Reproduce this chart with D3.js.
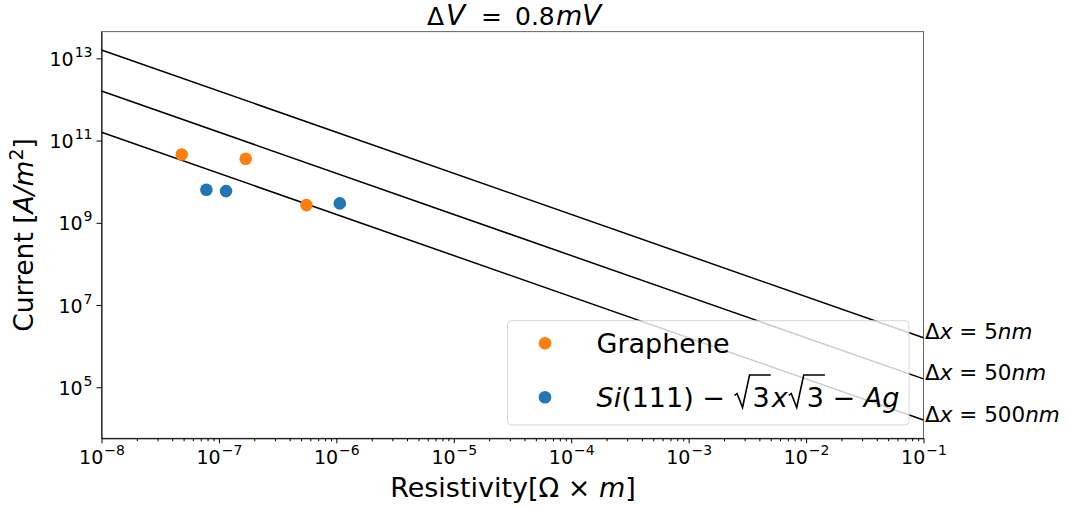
<!DOCTYPE html>
<html>
<head>
<meta charset="utf-8">
<script src="https://d3js.org/d3.v7.min.js"></script>
<style>
  body { margin: 0; background: #fff; }
  svg { display: block; font-family: "DejaVu Sans", sans-serif; }
</style>
</head>
<body>
<div id="chart"></div>
<script>
// resistivity [ohm*m] and current density [A/m^2]
var grapheneRho = [4.82e-8, 1.69e-7, 5.56e-7];
var grapheneJ = [4.6e10, 3.6e10, 2.7e9];
var siRho = [7.82e-8, 1.15e-7, 1.07e-6];
var siJ = [6.35e9, 5.9e9, 2.97e9];

// reference lines, end points only
var lineRho = [1e-8, 1e-1];
var lineNames = ["5", "50", "500"];
var lineJStart = [1.6e13, 1.6e12, 1.6e11];
var lineJEnd = [1.6e6, 1.6e5, 1.6e4];

var xTicks = [1e-8, 1e-7, 1e-6, 1e-5, 1e-4, 1e-3, 1e-2, 1e-1];
var yTicks = [1e5, 1e7, 1e9, 1e11, 1e13];

var W = 1069, H = 508;
var pLeft = 101.5, pRight = 923.5, pTop = 31.6, pBottom = 438.3;
var orange = "#ff7f0e", blue = "#1f77b4";

var svg = d3.select("#chart").append("svg")
  .attr("width", W).attr("height", H);

var x = d3.scaleLog().domain([1e-8, 1e-1]).range([pLeft, pRight]);
var y = d3.scaleLog().domain([Math.pow(10, 3.76), Math.pow(10, 13.65)]).range([pBottom, pTop]);

// little helper for mathtext-ish strings: [text, italic, dx]
function mtext(sel, parts) {
  parts.forEach(function(p) {
    var t = sel.append("tspan").text(p[0]);
    if (p[1]) t.style("font-style", "italic");
    if (p[2]) t.attr("dx", p[2]);
  });
  return sel;
}

// frame
svg.append("rect")
  .attr("x", pLeft).attr("y", pTop)
  .attr("width", pRight - pLeft).attr("height", pBottom - pTop)
  .attr("fill", "none").attr("stroke", "#666").attr("stroke-width", 1);

// minor x ticks
var minor = [];
for (var e = -8; e < -1; e++) {
  for (var k = 2; k < 10; k++) minor.push(k * Math.pow(10, e));
}
svg.append("g")
  .attr("transform", "translate(0," + pBottom + ")")
  .call(d3.axisBottom(x).tickValues(minor).tickSize(3).tickFormat(function() { return ""; }))
  .call(function(g) { g.select(".domain").remove(); });

var gx = svg.append("g")
  .attr("transform", "translate(0," + pBottom + ")")
  .call(d3.axisBottom(x).tickValues(xTicks).tickSize(5).tickSizeOuter(0).tickFormat(function() { return ""; }))
  .attr("font-size", null).attr("font-family", null);
gx.select(".domain").attr("stroke", "#000");
gx.selectAll(".tick text").remove();
gx.selectAll(".tick").append("text")
  .attr("y", 25.7)
  .attr("text-anchor", "middle")
  .attr("fill", "#000")
  .style("font-size", "19px")
  .each(function(d) {
    var t = d3.select(this);
    t.append("tspan").text("10");
    t.append("tspan").attr("dy", -9).attr("dx", 1).style("font-size", "14px")
      .text("\u2212" + Math.round(-Math.log10(d)));
  });

var gy = svg.append("g")
  .attr("transform", "translate(" + pLeft + ",0)")
  .call(d3.axisLeft(y).tickValues(yTicks).tickSize(5).tickSizeOuter(0).tickFormat(function() { return ""; }))
  .attr("font-size", null).attr("font-family", null);
gy.select(".domain").attr("stroke", "#000");
gy.selectAll(".tick text").remove();
gy.selectAll(".tick").append("text")
  .attr("x", -9)
  .attr("y", 7)
  .attr("text-anchor", "end")
  .attr("fill", "#000")
  .style("font-size", "19px")
  .each(function(d) {
    var t = d3.select(this);
    t.append("tspan").text("10");
    t.append("tspan").attr("dy", -9).attr("dx", 1).style("font-size", "14px")
      .text(Math.round(Math.log10(d)));
  });

// reference lines
var line = d3.line().x(function(d) { return x(d[0]); }).y(function(d) { return y(d[1]); });
lineNames.forEach(function(n, i) {
  var pts = [[lineRho[0], lineJStart[i]], [lineRho[1], lineJEnd[i]]];
  svg.append("path").attr("d", line(pts))
    .attr("fill", "none").attr("stroke", "#000").attr("stroke-width", 1.5);
  mtext(svg.append("text")
    .attr("x", pRight + 1.5).attr("y", y(lineJEnd[i]) + 1.5)
    .style("font-size", "21.5px").attr("fill", "#000"),
    [["\u0394"], ["x", true], [" = "], [n], ["nm", true]]);
});

// points
function dots(rho, j, color) {
  svg.append("g").selectAll("circle")
    .data(d3.range(rho.length))
    .join("circle")
    .attr("cx", function(i) { return x(rho[i]); })
    .attr("cy", function(i) { return y(j[i]); })
    .attr("r", 6.3)
    .attr("fill", color);
}
dots(grapheneRho, grapheneJ, orange);
dots(siRho, siJ, blue);

// legend
var lg = svg.append("g");
lg.append("rect")
  .attr("x", 507.5).attr("y", 320.7).attr("width", 401.5).attr("height", 104.3)
  .attr("rx", 4).attr("fill", "#fff").attr("fill-opacity", 0.8)
  .attr("stroke", "#ccc").attr("stroke-opacity", 0.8);
lg.append("circle").attr("cx", 545).attr("cy", 343.3).attr("r", 6.3).attr("fill", orange);
lg.append("circle").attr("cx", 545).attr("cy", 397.3).attr("r", 6.3).attr("fill", blue);
lg.append("text").attr("x", 596.5).attr("y", 353)
  .style("font-size", "27px").attr("fill", "#000").text("Graphene");
var siText = mtext(lg.append("text").attr("x", 596.5).attr("y", 406.5)
  .style("font-size", "27px").attr("fill", "#000"),
  [["Si", true], ["(111)"], [" \u2212 "], ["3", false, 19], ["x", true, 2], ["3", false, 19], [" \u2212 "], ["Ag", true]]);
// square root signs drawn over the two 3s
var node = siText.node();
[10, 12].forEach(function(ci) {
  var ex = node.getExtentOfChar(ci);
  var b = 406.5, x0 = ex.x, x1 = ex.x + ex.width, tp = b - 31.5;
  lg.append("path")
    .attr("d", "M" + (x0 - 18) + "," + (b - 11) + " L" + (x0 - 15.5) + "," + (b - 13) +
      " L" + (x0 - 10) + "," + (b + 1) + " L" + (x0 - 3) + "," + tp + " L" + (x1 + 1) + "," + tp)
    .attr("fill", "none").attr("stroke", "#000").attr("stroke-width", 1.6);
});

// title, pieces placed like mathtext spacing
var title = svg.append("text").attr("y", 25)
  .style("font-size", "25px").attr("fill", "#000");
[["\u0394", false, 427, 25], ["V", true, 446, 28], ["=", false, 481, 25], ["0.8", false, 515, 25], ["m", true, 556, 27], ["V", true, 582, 28]]
  .forEach(function(p) {
    var t = title.append("tspan").attr("x", p[2]).style("font-size", p[3] + "px").text(p[0]);
    if (p[1]) t.style("font-style", "italic");
  });

mtext(svg.append("text").attr("x", 513).attr("y", 497).attr("text-anchor", "middle")
  .style("font-size", "27px").attr("fill", "#000"),
  [["Resistivity[\u03a9 \u00d7 "], ["m", true], ["]"]]);

var yl = svg.append("text")
  .attr("transform", "translate(33," + ((pTop + pBottom) / 2) + ") rotate(-90)")
  .attr("text-anchor", "middle")
  .style("font-size", "26.5px").attr("fill", "#000");
mtext(yl, [["Current ["], ["A/m", true]]);
yl.append("tspan").attr("dy", -10).style("font-size", "19px").text("2");
yl.append("tspan").attr("dy", 10).text("]");
</script>
</body>
</html>
